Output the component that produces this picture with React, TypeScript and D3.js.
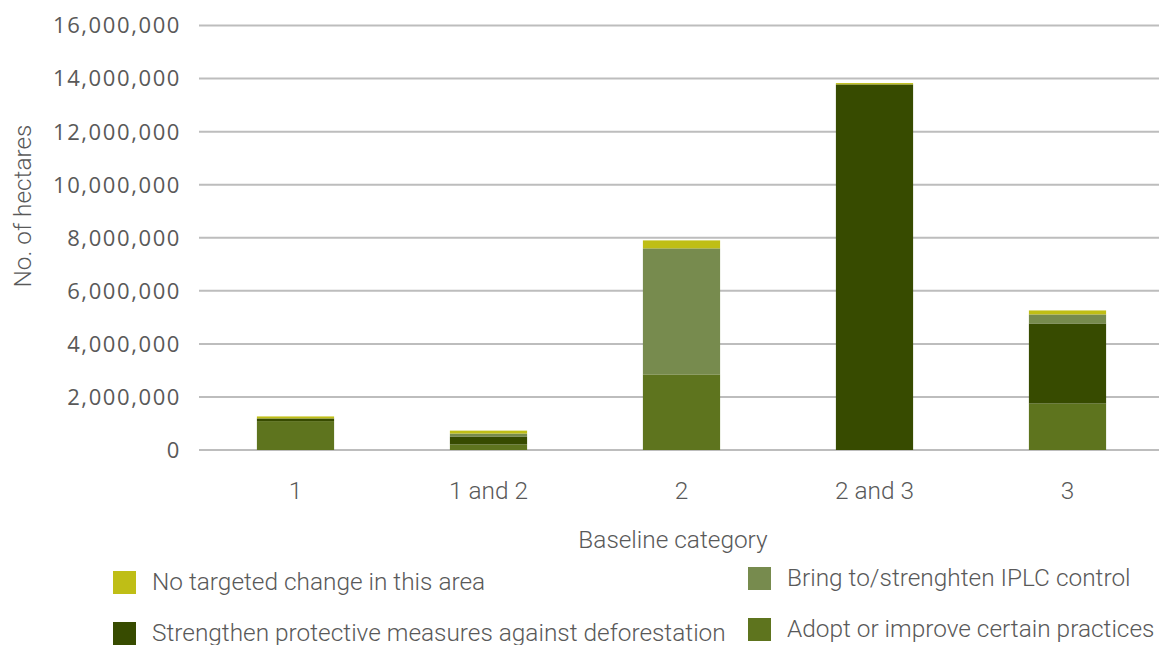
import React from "react";
import * as d3 from "d3";

const categories = ["1", "1 and 2", "2", "2 and 3", "3"];
const adoptPractices = [1090000, 210000, 2850000, 0, 1750000];
const protectiveMeasures = [100000, 300000, 0, 13780000, 3020000];
const iplcControl = [0, 110000, 4750000, 0, 340000];
const noTargetedChange = [75000, 110000, 300000, 50000, 150000];
const yTicks = [0, 2000000, 4000000, 6000000, 8000000, 10000000, 12000000, 14000000, 16000000];

const seriesKeys = ["adopt", "protect", "iplc", "none"] as const;
const seriesColors: Record<string, string> = {
  adopt: "#5E741E",
  protect: "#374B00",
  iplc: "#778B4E",
  none: "#BFBE16",
};

const W = 1159;
const H = 645;
const left = 199;
const right = 1164;
const top = 25.5;
const bottom = 450;

const tickFont = "'Open Sans', sans-serif";
const labelFont = "Roboto, sans-serif";
const labelSize = 24.4;
const textColor = "#595959";

export default function App() {
  const rows = categories.map((c, i) => ({
    category: c,
    adopt: adoptPractices[i],
    protect: protectiveMeasures[i],
    iplc: iplcControl[i],
    none: noTargetedChange[i],
  }));
  const stacked = d3.stack<any>().keys(seriesKeys as unknown as string[])(rows);

  const x = d3
    .scaleBand<string>()
    .domain(categories)
    .range([left, right])
    .paddingInner(0.6)
    .paddingOuter(0.3);
  const y = d3.scaleLinear().domain([0, 16000000]).range([bottom, top]);
  const fmt = d3.format(",");

  const legend = [
    { key: "none", label: "No targeted change in this area", x: 113, y: 571 },
    { key: "iplc", label: "Bring to/strenghten IPLC control", x: 748, y: 567 },
    { key: "protect", label: "Strengthen protective measures against deforestation", x: 113, y: 622 },
    { key: "adopt", label: "Adopt or improve certain practices", x: 748, y: 618 },
  ];

  return (
    <svg
      width={W}
      height={H}
      style={{ position: "absolute", left: 0, top: 0, background: "#fff" }}
    >
      {yTicks.map((t) => (
        <g key={t}>
          <line x1={left} x2={right} y1={y(t)} y2={y(t)} stroke="#BDBDBD" strokeWidth={2} />
          <text
            x={181}
            y={y(t)}
            dy="0.36em"
            textAnchor="end"
            fontFamily={tickFont}
            fontSize={22}
            letterSpacing={1.6}
            fill={textColor}
          >
            {fmt(t)}
          </text>
        </g>
      ))}

      {stacked.map((s) => (
        <g key={s.key} fill={seriesColors[s.key]}>
          {s.map((d, i) => {
            const h = y(d[0]) - y(d[1]);
            if (h <= 0) return null;
            return (
              <rect
                key={i}
                x={x(categories[i])}
                y={y(d[1])}
                width={x.bandwidth()}
                height={h}
              />
            );
          })}
        </g>
      ))}

      {categories.map((c) => (
        <text
          key={c}
          x={(x(c) as number) + x.bandwidth() / 2}
          y={499}
          textAnchor="middle"
          fontFamily={labelFont}
          fontWeight={300}
          fontSize={labelSize}
          fill={textColor}
        >
          {c}
        </text>
      ))}

      <text
        x={673}
        y={548}
        textAnchor="middle"
        fontFamily={labelFont}
        fontWeight={300}
        fontSize={labelSize}
        fill={textColor}
      >
        Baseline category
      </text>

      <text
        transform={`translate(31, 206) rotate(-90)`}
        textAnchor="middle"
        fontFamily={labelFont}
        fontWeight={300}
        fontSize={labelSize}
        fill={textColor}
      >
        No. of hectares
      </text>

      {legend.map((l) => (
        <g key={l.key}>
          <rect x={l.x} y={l.y} width={23} height={23} fill={seriesColors[l.key]} />
          <text
            x={l.x + 39}
            y={l.y + 19}
            fontFamily={labelFont}
            fontWeight={300}
            fontSize={labelSize}
            fill={textColor}
          >
            {l.label}
          </text>
        </g>
      ))}
    </svg>
  );
}
